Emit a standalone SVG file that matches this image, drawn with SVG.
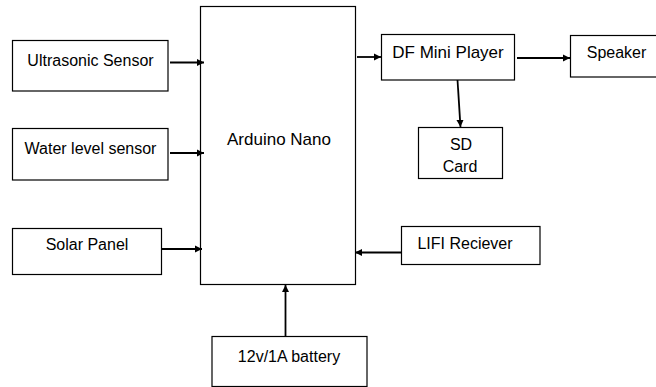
<svg xmlns="http://www.w3.org/2000/svg" width="656" height="387" viewBox="0 0 656 387">
<style>
.box{fill:#fff;stroke:#000;stroke-width:1.2}
.lbl{font-family:"Liberation Sans",Arial,sans-serif;font-size:16px;fill:#000;text-anchor:middle}
.con{stroke:#000;stroke-width:1.8;fill:none;marker-end:url(#ah)}
</style>
<defs>
<marker id="ah" viewBox="0 0 10 10" refX="10" refY="5" markerWidth="4" markerHeight="4" orient="auto" markerUnits="strokeWidth">
<path d="M0,0 L10,5 L0,10 z" fill="#000"/>
</marker>
</defs>
<rect width="656" height="387" fill="#fff"/>
<g id="arduino"><rect class="box" x="200.5" y="6.5" width="155" height="278"/><text class="lbl" x="279" y="145" style="font-size:17px">Arduino Nano</text></g>
<g id="ultrasonic"><rect class="box" x="12.5" y="40.5" width="155.5" height="50.5"/><text class="lbl" x="90.5" y="66">Ultrasonic Sensor</text></g>
<g id="water"><rect class="box" x="12.5" y="128.5" width="155.5" height="51.5"/><text class="lbl" x="90.5" y="154">Water level sensor</text></g>
<g id="solar"><rect class="box" x="12.5" y="228.5" width="149" height="46"/><text class="lbl" x="87" y="250">Solar Panel</text></g>
<g id="lifi"><rect class="box" x="401.5" y="226.5" width="138.5" height="38"/><text class="lbl" x="465" y="249">LIFI Reciever</text></g>
<g id="dfplayer"><rect class="box" x="381.5" y="34.5" width="133" height="45.5"/><text class="lbl" x="448" y="58" style="font-size:17px">DF Mini Player</text></g>
<g id="sdcard"><rect class="box" x="418.5" y="127.5" width="84" height="51"/><text class="lbl" x="461" y="150">SD</text><text class="lbl" x="460" y="172">Card</text></g>
<g id="speaker"><rect class="box" x="570.5" y="35.5" width="90" height="41.5"/><text class="lbl" x="616.5" y="58">Speaker</text></g>
<g id="battery"><rect class="box" x="212" y="336.5" width="155" height="50"/><text class="lbl" x="289" y="362">12v/1A battery</text></g>
<g id="connectors">
<line class="con" x1="170" y1="62.5" x2="204" y2="62.5"/>
<line class="con" x1="170" y1="153" x2="204" y2="153"/>
<line class="con" x1="162" y1="249" x2="202" y2="249"/>
<line class="con" x1="401" y1="252.5" x2="355" y2="252.5"/>
<line class="con" x1="285.5" y1="336" x2="285.5" y2="285"/>
<line class="con" x1="357" y1="57" x2="381" y2="57"/>
<line class="con" x1="517" y1="58" x2="570" y2="58"/>
<line class="con" x1="457.5" y1="80" x2="460.5" y2="127"/>
</g>
</svg>
